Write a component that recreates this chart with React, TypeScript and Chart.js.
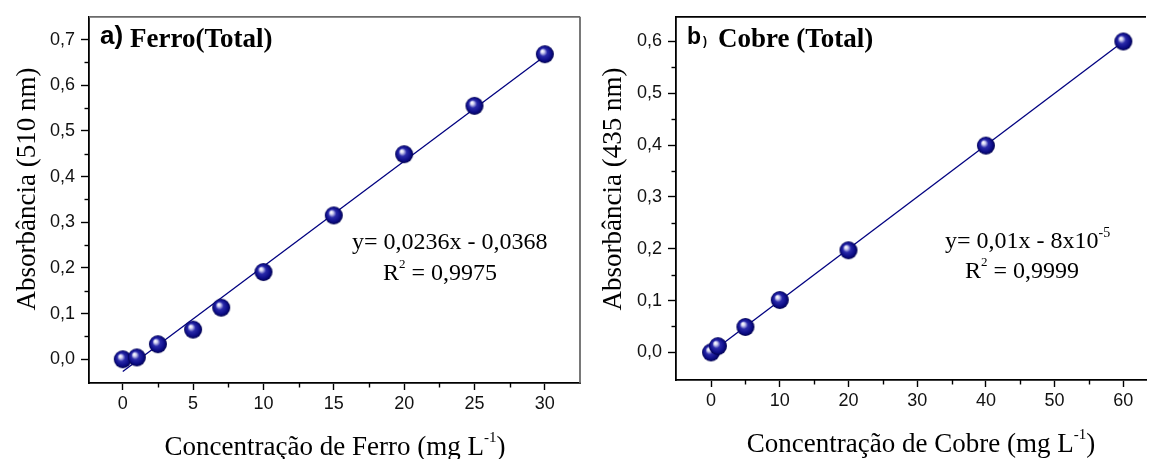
import React, { useEffect, useRef } from "react";
import { Chart, registerables } from "chart.js";
Chart.register(...registerables);

// ---------- data: panel a (Ferro) ----------
const ferroConc = [0, 1, 2.5, 5, 7, 10, 15, 20, 25, 30];
const ferroAbs = [0, 0.004, 0.033, 0.065, 0.113, 0.191, 0.315, 0.449, 0.555, 0.668];
const ferroFitConc = [0, 30];
const ferroFitAbs = [-0.027, 0.664];
const ferroXTicks = [0, 5, 10, 15, 20, 25, 30];
const ferroXTickLabels = ["0", "5", "10", "15", "20", "25", "30"];
const ferroXMinor = [2.5, 7.5, 12.5, 17.5, 22.5, 27.5];
const ferroYTicks = [0, 0.1, 0.2, 0.3, 0.4, 0.5, 0.6, 0.7];
const ferroYTickLabels = ["0,0", "0,1", "0,2", "0,3", "0,4", "0,5", "0,6", "0,7"];
const ferroYMinor = [0.05, 0.15, 0.25, 0.35, 0.45, 0.55, 0.65];

// ---------- data: panel b (Cobre) ----------
const cobreConc = [0, 1, 5, 10, 20, 40, 60];
const cobreAbs = [0, 0.012, 0.049, 0.101, 0.197, 0.399, 0.6];
const cobreFitConc = [0, 60];
const cobreFitAbs = [-0.00008, 0.59992];
const cobreXTicks = [0, 10, 20, 30, 40, 50, 60];
const cobreXTickLabels = ["0", "10", "20", "30", "40", "50", "60"];
const cobreXMinor = [5, 15, 25, 35, 45, 55];
const cobreYTicks = [0, 0.1, 0.2, 0.3, 0.4, 0.5, 0.6];
const cobreYTickLabels = ["0,0", "0,1", "0,2", "0,3", "0,4", "0,5", "0,6"];
const cobreYMinor = [0.05, 0.15, 0.25, 0.35, 0.45, 0.55];

const SERIF = "'Liberation Serif', 'Times New Roman', serif";
const SANS = "'Liberation Sans', Arial, sans-serif";

function makeSphere(r: number): HTMLCanvasElement {
  const size = Math.ceil(r * 2 + 2);
  const c = document.createElement("canvas");
  c.width = size;
  c.height = size;
  const ctx = c.getContext("2d")!;
  const cx = size / 2;
  const cy = size / 2;
  const g = ctx.createRadialGradient(cx - r * 0.3, cy - r * 0.36, r * 0.04, cx, cy, r);
  g.addColorStop(0, "#ffffff");
  g.addColorStop(0.16, "#d0d0f2");
  g.addColorStop(0.42, "#2a2aaa");
  g.addColorStop(0.78, "#0c0c86");
  g.addColorStop(1, "#00004c");
  ctx.fillStyle = g;
  ctx.beginPath();
  ctx.arc(cx, cy, r, 0, Math.PI * 2);
  ctx.fill();
  return c;
}

type Seg = { t: string; font: string; dy?: number };
function drawSegs(ctx: CanvasRenderingContext2D, x: number, y: number, segs: Seg[], align: "left" | "center" = "left") {
  ctx.textBaseline = "alphabetic";
  ctx.textAlign = "left";
  let total = 0;
  for (const s of segs) {
    ctx.font = s.font;
    total += ctx.measureText(s.t).width;
  }
  let cx = align === "center" ? x - total / 2 : x;
  for (const s of segs) {
    ctx.font = s.font;
    ctx.fillText(s.t, cx, y + (s.dy || 0));
    cx += ctx.measureText(s.t).width;
  }
}

type Panel = {
  px: number[]; py: number[]; fx: number[]; fy: number[];
  xMin: number; xMax: number; yMin: number; yMax: number;
  xTicks: number[]; xTickLabels: string[]; yTicks: number[]; yTickLabels: string[];
  xMinor: number[]; yMinor: number[];
  yAxisWidth: number; xAxisHeight: number; padTop: number; padRight: number;
  topColor: string; rightColor: string | null;
  texts: (ctx: CanvasRenderingContext2D) => void;
};

function buildChart(canvas: HTMLCanvasElement, p: Panel) {
  const sphere = makeSphere(9);
  const framePlugin = {
    id: "frame",
    afterDraw(chart: any) {
      const { ctx, chartArea: a, scales } = chart;
      ctx.save();
      ctx.strokeStyle = "#000";
      ctx.lineWidth = 1.4;
      for (const v of p.xMinor) {
        const x = Math.round(scales.x.getPixelForValue(v)) + 0.5;
        ctx.beginPath();
        ctx.moveTo(x, a.bottom);
        ctx.lineTo(x, a.bottom + 4.5);
        ctx.stroke();
      }
      for (const v of p.yMinor) {
        const y = Math.round(scales.y.getPixelForValue(v)) + 0.5;
        ctx.beginPath();
        ctx.moveTo(a.left, y);
        ctx.lineTo(a.left - 4.5, y);
        ctx.stroke();
      }
      ctx.lineWidth = 1.8;
      ctx.strokeStyle = p.topColor;
      ctx.beginPath();
      ctx.moveTo(a.left, a.top);
      ctx.lineTo(a.right, a.top);
      ctx.stroke();
      if (p.rightColor) {
        ctx.strokeStyle = p.rightColor;
        ctx.beginPath();
        ctx.moveTo(a.right, a.top);
        ctx.lineTo(a.right, a.bottom);
        ctx.stroke();
      }
      ctx.fillStyle = "#000";
      p.texts(ctx);
      ctx.restore();
    },
  };

  return new Chart(canvas, {
    type: "scatter",
    data: {
      datasets: [
        {
          data: p.px.map((x, i) => ({ x, y: p.py[i] })),
          pointStyle: sphere as any,
          pointRadius: 9,
          showLine: false,
        },
        {
          data: p.fx.map((x, i) => ({ x, y: p.fy[i] })),
          showLine: true,
          borderColor: "#000080",
          borderWidth: 1.3,
          pointRadius: 0,
          fill: false,
        },
      ],
    },
    options: {
      responsive: false,
      animation: false,
      devicePixelRatio: 1,
      layout: { padding: { left: 0, right: p.padRight, top: p.padTop, bottom: 0 } },
      plugins: { legend: { display: false }, tooltip: { enabled: false }, title: { display: false } },
      scales: {
        x: {
          type: "linear",
          min: p.xMin,
          max: p.xMax,
          afterBuildTicks: (s: any) => { s.ticks = p.xTicks.map((v) => ({ value: v })); },
          afterFit: (s: any) => { s.height = p.xAxisHeight; },
          ticks: {
            autoSkip: false,
            maxRotation: 0,
            padding: 3,
            color: "#111",
            font: { family: SANS, size: 18 },
            callback: (v: any) => p.xTickLabels[p.xTicks.indexOf(Number(v))] ?? "",
          },
          grid: { drawOnChartArea: false, drawTicks: true, tickLength: 7, tickColor: "#000", tickWidth: 1.4 },
          border: { display: true, color: "#000", width: 1.8 },
        },
        y: {
          type: "linear",
          min: p.yMin,
          max: p.yMax,
          afterBuildTicks: (s: any) => { s.ticks = p.yTicks.map((v) => ({ value: v })); },
          afterFit: (s: any) => { s.width = p.yAxisWidth; },
          ticks: {
            autoSkip: false,
            padding: 6,
            color: "#111",
            font: { family: SANS, size: 18 },
            callback: (v: any) => {
              const i = p.yTicks.findIndex((t) => Math.abs(t - Number(v)) < 1e-9);
              return i >= 0 ? p.yTickLabels[i] : "";
            },
          },
          grid: { drawOnChartArea: false, drawTicks: true, tickLength: 8, tickColor: "#000", tickWidth: 1.4 },
          border: { display: true, color: "#000", width: 1.8 },
        },
      },
    },
    plugins: [framePlugin as any],
  } as any);
}

function rotatedTitle(ctx: CanvasRenderingContext2D, text: string, x: number, y: number) {
  ctx.save();
  ctx.translate(x, y);
  ctx.rotate(-Math.PI / 2);
  ctx.font = `27px ${SERIF}`;
  ctx.textAlign = "center";
  ctx.textBaseline = "alphabetic";
  ctx.fillText(text, 0, 0);
  ctx.restore();
}

const panelA: Panel = {
  px: ferroConc, py: ferroAbs, fx: ferroFitConc, fy: ferroFitAbs,
  xMin: -2.4, xMax: 32.5, yMin: -0.052, yMax: 0.75,
  xTicks: ferroXTicks, xTickLabels: ferroXTickLabels, yTicks: ferroYTicks, yTickLabels: ferroYTickLabels,
  xMinor: ferroXMinor, yMinor: ferroYMinor,
  yAxisWidth: 89, xAxisHeight: 76, padTop: 14, padRight: 8,
  topColor: "#6a6a6a", rightColor: "#6a6a6a",
  texts: (ctx) => {
    drawSegs(ctx, 100, 44, [{ t: "a)", font: `bold 26px ${SANS}` }]);
    drawSegs(ctx, 130, 47, [{ t: "Ferro(Total)", font: `bold 27px ${SERIF}` }]);
    drawSegs(ctx, 352, 249, [{ t: "y= 0,0236x - 0,0368", font: `24px ${SERIF}` }]);
    drawSegs(ctx, 383, 280, [
      { t: "R", font: `24px ${SERIF}` },
      { t: "2", font: `13px ${SERIF}`, dy: -12 },
      { t: " = 0,9975", font: `24px ${SERIF}` },
    ]);
    rotatedTitle(ctx, "Absorbância (510 nm)", 35, 189);
    drawSegs(ctx, 335, 455, [
      { t: "Concentração de Ferro (mg L", font: `27px ${SERIF}` },
      { t: "-1", font: `15px ${SERIF}`, dy: -13 },
      { t: ")", font: `27px ${SERIF}` },
    ], "center");
  },
};

const OFF_B = 590;
const panelB: Panel = {
  px: cobreConc, py: cobreAbs, fx: cobreFitConc, fy: cobreFitAbs,
  xMin: -5.1, xMax: 63.3, yMin: -0.0533, yMax: 0.6476,
  xTicks: cobreXTicks, xTickLabels: cobreXTickLabels, yTicks: cobreYTicks, yTickLabels: cobreYTickLabels,
  xMinor: cobreXMinor, yMinor: cobreYMinor,
  yAxisWidth: 86, xAxisHeight: 79, padTop: 13, padRight: 0,
  topColor: "#000", rightColor: null,
  texts: (ctx) => {
    drawSegs(ctx, 687 - OFF_B, 44, [{ t: "b", font: `bold 23px ${SANS}` }]);
    drawSegs(ctx, 703 - OFF_B, 45, [{ t: ")", font: `bold 12px ${SANS}` }]);
    drawSegs(ctx, 718 - OFF_B, 47, [{ t: "Cobre (Total)", font: `bold 27px ${SERIF}` }]);
    drawSegs(ctx, 945 - OFF_B, 248, [
      { t: "y= 0,01x - 8x10", font: `24px ${SERIF}` },
      { t: "-5", font: `14px ${SERIF}`, dy: -11 },
    ]);
    drawSegs(ctx, 965 - OFF_B, 278, [
      { t: "R", font: `24px ${SERIF}` },
      { t: "2", font: `13px ${SERIF}`, dy: -12 },
      { t: " = 0,9999", font: `24px ${SERIF}` },
    ]);
    rotatedTitle(ctx, "Absorbância (435 nm)", 621 - OFF_B, 189);
    drawSegs(ctx, 921 - OFF_B, 452, [
      { t: "Concentração de Cobre (mg L", font: `27px ${SERIF}` },
      { t: "-1", font: `15px ${SERIF}`, dy: -13 },
      { t: ")", font: `27px ${SERIF}` },
    ], "center");
  },
};

export default function App() {
  const refA = useRef<HTMLCanvasElement>(null);
  const refB = useRef<HTMLCanvasElement>(null);
  useEffect(() => {
    const a = buildChart(refA.current!, panelA);
    const b = buildChart(refB.current!, panelB);
    return () => {
      a.destroy();
      b.destroy();
    };
  }, []);
  return (
    <div style={{ position: "fixed", left: 0, top: 0, width: 1156, height: 459, background: "#fff", overflow: "hidden" }}>
      <canvas ref={refA} width={590} height={459} style={{ position: "absolute", left: 0, top: 0 }} />
      <canvas ref={refB} width={566} height={459} style={{ position: "absolute", left: OFF_B, top: 0 }} />
    </div>
  );
}
